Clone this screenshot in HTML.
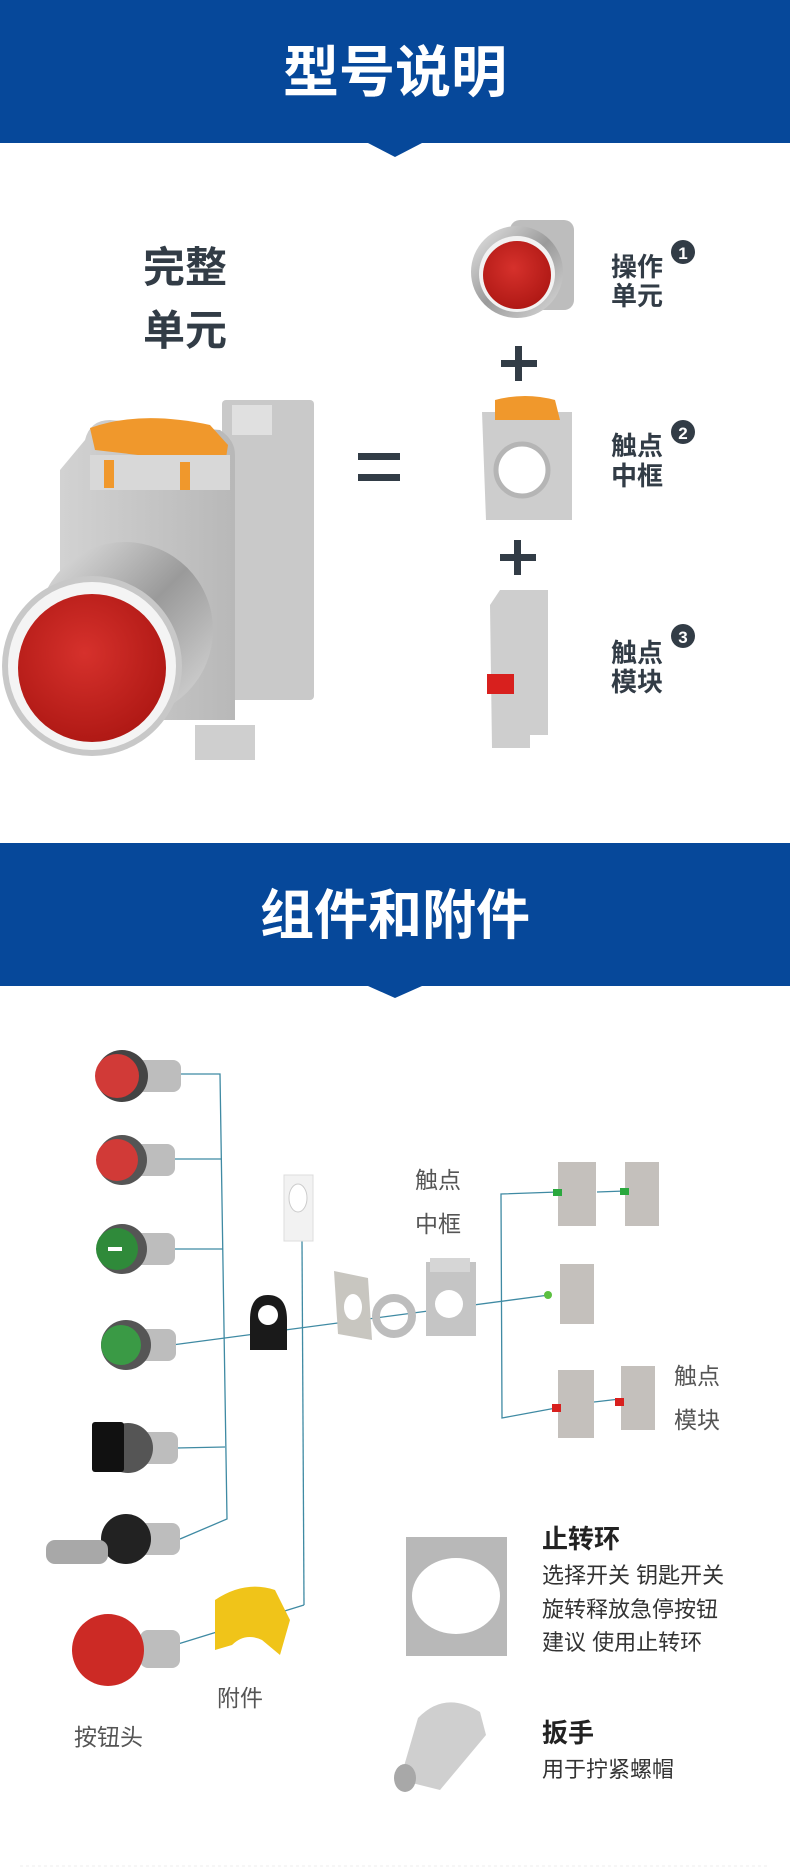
<!DOCTYPE html>
<html><head><meta charset="utf-8"><style>
html,body{margin:0;padding:0;background:#fff;width:790px;height:1872px;overflow:hidden}
svg{display:block}
text{font-family:"Liberation Sans","Noto Sans CJK SC",sans-serif}
</style></head><body>
<svg width="790" height="1872" viewBox="0 0 790 1872" xmlns="http://www.w3.org/2000/svg">
<defs>
<radialGradient id="red" cx="45%" cy="40%" r="60%"><stop offset="0" stop-color="#d6312c"/><stop offset="1" stop-color="#b01915"/></radialGradient>
<linearGradient id="metal" x1="0" y1="0" x2="1" y2="1"><stop offset="0" stop-color="#e8e8e8"/><stop offset=".5" stop-color="#9a9a9a"/><stop offset="1" stop-color="#dcdcdc"/></linearGradient>
<linearGradient id="grey" x1="0" y1="0" x2="1" y2="0"><stop offset="0" stop-color="#d2d2d2"/><stop offset="1" stop-color="#b8b8b8"/></linearGradient>
</defs>
<!-- header 1 -->
<rect x="0" y="0" width="790" height="143" fill="#06489a"/>
<polygon points="368,143 422,143 395,157" fill="#06489a"/>
<text x="395" y="92" font-size="56" font-weight="bold" fill="#fff" text-anchor="middle">型号说明</text>
<text x="185" y="282" font-size="42" font-weight="bold" fill="#323c46" text-anchor="middle">完整</text>
<text x="185" y="345" font-size="42" font-weight="bold" fill="#323c46" text-anchor="middle">单元</text>
<!-- big assembled button -->
<rect x="222" y="400" width="92" height="300" rx="4" fill="#c9c9c9"/>
<rect x="232" y="405" width="40" height="30" fill="#e0e0e0"/>
<path d="M85,440 Q90,420 110,420 L220,430 Q235,440 235,455 L235,720 L60,720 L60,470 Z" fill="url(#grey)"/>
<path d="M90,428 Q140,410 210,425 L228,445 L225,465 L95,450 Z" fill="#f0982c"/>
<rect x="90" y="455" width="140" height="35" fill="#d8d8d8"/>
<rect x="104" y="460" width="10" height="28" fill="#f0982c"/><rect x="180" y="462" width="10" height="28" fill="#f0982c"/>
<rect x="195" y="725" width="60" height="35" fill="#cfcfcf"/>
<circle cx="125" cy="630" r="88" fill="url(#metal)"/>
<circle cx="92" cy="666" r="90" fill="#c8c8c8"/>
<circle cx="92" cy="666" r="84" fill="#f4f4f4"/>
<circle cx="92" cy="668" r="74" fill="url(#red)"/>
<!-- equals -->
<rect x="358" y="453" width="42" height="7" fill="#323c46"/><rect x="358" y="474" width="42" height="7" fill="#323c46"/>
<!-- small button 1 -->
<rect x="510" y="220" width="64" height="90" rx="10" fill="#bdbdbd"/>
<circle cx="517" cy="272" r="46" fill="url(#metal)"/>
<circle cx="517" cy="274" r="38" fill="#f2f2f2"/>
<circle cx="517" cy="275" r="34" fill="url(#red)"/>
<text x="611" y="276" font-size="26" font-weight="bold" fill="#323c46">操作</text>
<text x="611" y="305" font-size="26" font-weight="bold" fill="#323c46">单元</text>
<circle cx="683" cy="252" r="12" fill="#323c46"/><text x="683" y="259" font-size="17" font-weight="bold" fill="#fff" text-anchor="middle">1</text>
<!-- plus -->
<rect x="501" y="360" width="36" height="7" fill="#323c46"/><rect x="515" y="346" width="7" height="35" fill="#323c46"/>
<!-- frame 2 -->
<path d="M482,412 L572,412 L572,520 L486,520 Z" fill="#cdcdcd"/>
<path d="M495,400 Q525,392 555,400 L560,420 L495,420 Z" fill="#f0982c"/>
<circle cx="522" cy="470" r="26" fill="#fff"/><circle cx="522" cy="470" r="26" fill="none" stroke="#b5b5b5" stroke-width="5"/>
<text x="611" y="455" font-size="26" font-weight="bold" fill="#323c46">触点</text>
<text x="611" y="485" font-size="26" font-weight="bold" fill="#323c46">中框</text>
<circle cx="683" cy="432" r="12" fill="#323c46"/><text x="683" y="439" font-size="17" font-weight="bold" fill="#fff" text-anchor="middle">2</text>
<rect x="500" y="554" width="36" height="7" fill="#323c46"/><rect x="514" y="540" width="7" height="35" fill="#323c46"/>
<!-- module 3 -->
<path d="M490,605 L500,590 L548,590 L548,735 L530,735 L530,748 L492,748 Z" fill="#cecece"/>
<rect x="487" y="674" width="27" height="20" fill="#d8201e"/>
<text x="611" y="662" font-size="26" font-weight="bold" fill="#323c46">触点</text>
<text x="611" y="691" font-size="26" font-weight="bold" fill="#323c46">模块</text>
<circle cx="683" cy="636" r="12" fill="#323c46"/><text x="683" y="643" font-size="17" font-weight="bold" fill="#fff" text-anchor="middle">3</text>
<!-- header 2 -->
<rect x="0" y="843" width="790" height="143" fill="#06489a"/>
<polygon points="368,986 422,986 395,998" fill="#06489a"/>
<text x="395" y="934" font-size="54" font-weight="bold" fill="#fff" text-anchor="middle">组件和附件</text>
<!-- lines -->
<g stroke="#3f8aa3" stroke-width="1.3" fill="none">
<polyline points="181,1074 220,1074 227,1519 180,1539"/>
<line x1="170" y1="1159" x2="221" y2="1159"/>
<line x1="170" y1="1249" x2="223" y2="1249"/>
<line x1="172" y1="1345" x2="549" y2="1295"/>
<line x1="176" y1="1448" x2="225" y2="1447"/>
<line x1="302" y1="1241" x2="304" y2="1605"/>
<line x1="304" y1="1605" x2="178" y2="1644"/>
<polyline points="558,1192 501,1194 502,1418 556,1408"/>
<line x1="597" y1="1192" x2="625" y2="1191"/>
<line x1="594" y1="1402" x2="620" y2="1399"/>
</g>
<!-- left buttons -->
<g>
<rect x="125" y="1060" width="56" height="32" rx="8" fill="#bdbdbd"/><circle cx="122" cy="1076" r="26" fill="#444"/><circle cx="117" cy="1076" r="22" fill="#d13a37"/>
<rect x="125" y="1144" width="50" height="32" rx="8" fill="#bdbdbd"/><circle cx="122" cy="1160" r="25" fill="#555"/><circle cx="117" cy="1160" r="21" fill="#d13a37"/>
<rect x="125" y="1233" width="50" height="32" rx="8" fill="#bdbdbd"/><circle cx="122" cy="1249" r="25" fill="#555"/><circle cx="117" cy="1249" r="21" fill="#2f8a3a"/><rect x="108" y="1247" width="14" height="4" fill="#fff"/>
<rect x="128" y="1329" width="48" height="32" rx="8" fill="#bdbdbd"/><circle cx="126" cy="1345" r="25" fill="#555"/><circle cx="121" cy="1345" r="20" fill="#3a9a45"/>
<rect x="128" y="1432" width="50" height="32" rx="8" fill="#bdbdbd"/><circle cx="128" cy="1448" r="25" fill="#555"/><rect x="92" y="1422" width="32" height="50" rx="3" fill="#111"/>
<rect x="128" y="1523" width="52" height="32" rx="8" fill="#bdbdbd"/><circle cx="126" cy="1539" r="25" fill="#222"/><rect x="46" y="1540" width="62" height="24" rx="9" fill="#a8a8a8"/>
<rect x="140" y="1630" width="40" height="38" rx="8" fill="#bdbdbd"/><circle cx="108" cy="1650" r="36" fill="#cc2a25"/>
</g>
<!-- accessories -->
<rect x="284" y="1175" width="29" height="66" fill="#f2f2f2" stroke="#ddd"/>
<ellipse cx="298" cy="1198" rx="9" ry="14" fill="#fff" stroke="#ccc"/>
<path d="M250,1320 Q250,1295 268,1295 Q287,1295 287,1320 L287,1350 L250,1350 Z" fill="#1a1a1a"/>
<circle cx="268" cy="1315" r="10" fill="#fff"/>
<polygon points="334,1271 368,1278 372,1340 338,1334" fill="#c8c6c0"/>
<ellipse cx="353" cy="1307" rx="9" ry="13" fill="#fff"/>
<circle cx="394" cy="1316" r="18" fill="none" stroke="#bdbdbd" stroke-width="8"/>
<rect x="426" y="1262" width="50" height="74" fill="#c5c5c5"/>
<rect x="430" y="1258" width="40" height="14" fill="#d6d6d6"/>
<circle cx="449" cy="1304" r="14" fill="#fff"/>
<path d="M215,1600 Q245,1580 275,1590 L290,1620 L280,1655 L262,1640 Q245,1632 232,1645 L215,1650 Z" fill="#f0c419"/>
<text x="415" y="1188" font-size="23" fill="#555">触点</text>
<text x="415" y="1232" font-size="23" fill="#555">中框</text>
<!-- modules right -->
<g fill="#c4c0bc">
<rect x="558" y="1162" width="38" height="64"/><rect x="625" y="1162" width="34" height="64"/>
<rect x="560" y="1264" width="34" height="60"/>
<rect x="558" y="1370" width="36" height="68"/><rect x="621" y="1366" width="34" height="64"/>
</g>
<rect x="553" y="1189" width="9" height="7" fill="#2aa83e"/><rect x="620" y="1188" width="9" height="7" fill="#2aa83e"/>
<circle cx="548" cy="1295" r="4" fill="#5cc040"/>
<rect x="552" y="1404" width="9" height="8" fill="#d8201e"/><rect x="615" y="1398" width="9" height="8" fill="#d8201e"/>
<text x="674" y="1384" font-size="23" fill="#555">触点</text>
<text x="674" y="1428" font-size="23" fill="#555">模块</text>
<text x="217" y="1706" font-size="23" fill="#555">附件</text>
<text x="74" y="1745" font-size="23" fill="#555">按钮头</text>
<!-- plate and wrench -->
<rect x="406" y="1537" width="101" height="119" fill="#b8b8b8"/>
<ellipse cx="456" cy="1596" rx="44" ry="38" fill="#fff"/>
<path d="M400,1780 L418,1718 Q445,1690 480,1712 L486,1735 L440,1790 Z" fill="#cfcfcf"/>
<ellipse cx="405" cy="1778" rx="11" ry="14" fill="#a8a8a8"/>
<text x="542" y="1548" font-size="26" font-weight="bold" fill="#222">止转环</text>
<text x="542" y="1583" font-size="22" fill="#333">选择开关 钥匙开关</text>
<text x="542" y="1617" font-size="22" fill="#333">旋转释放急停按钮</text>
<text x="542" y="1650" font-size="22" fill="#333">建议 使用止转环</text>
<text x="542" y="1742" font-size="26" font-weight="bold" fill="#222">扳手</text>
<text x="542" y="1777" font-size="22" fill="#333">用于拧紧螺帽</text>
<line x1="20" y1="1866" x2="770" y2="1866" stroke="#eee" stroke-dasharray="3,3"/>
</svg>
</body></html>
